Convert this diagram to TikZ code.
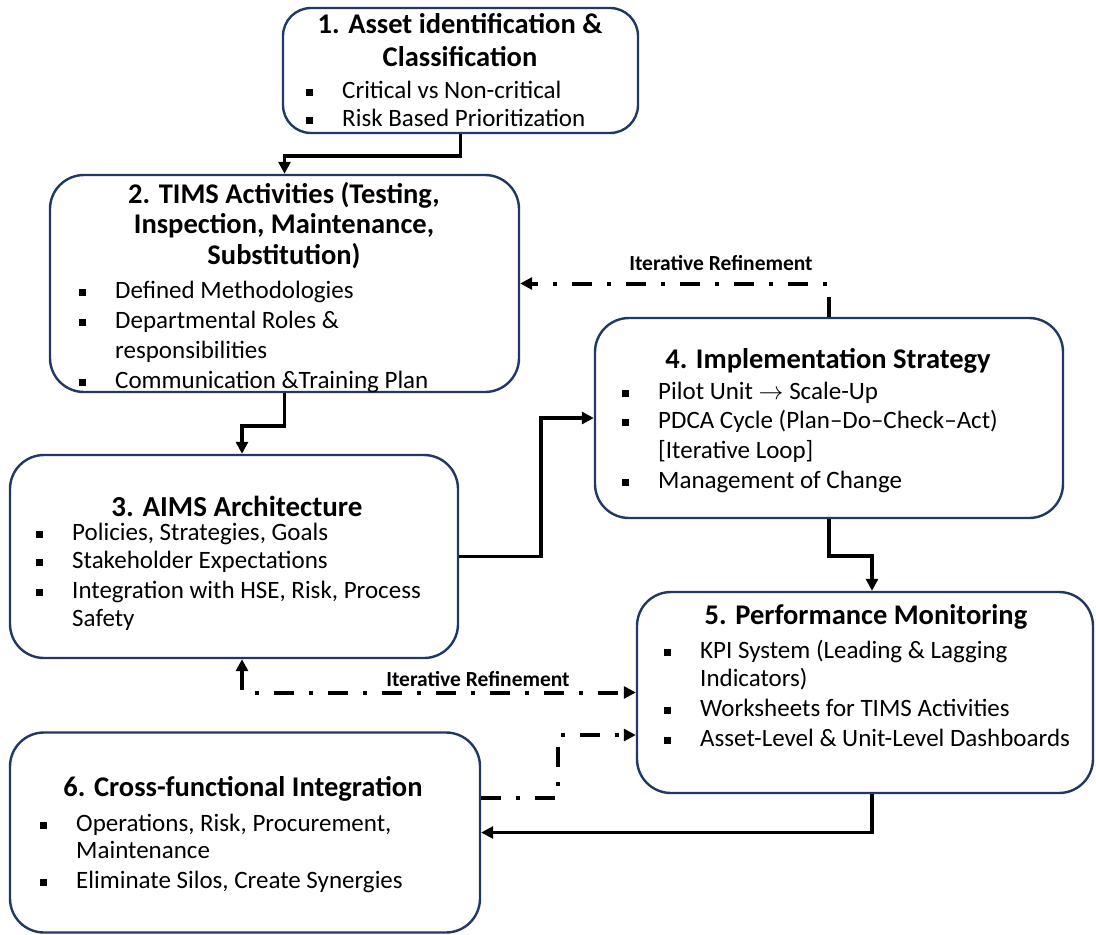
\documentclass[tikz,border=0pt]{standalone}
\usepackage{fontspec}
\setmainfont{Carlito}
\usetikzlibrary{arrows.meta,calc}
\definecolor{boxline}{RGB}{32,56,100}
\tikzset{
  x=1pt, y=-1pt,
  box/.style={draw=boxline, line width=2.4pt, rounded corners=34pt, inner sep=0pt, fill=white},
  ttl/.style={font=\bfseries\fontsize{#1}{#1}\selectfont, anchor=center, inner sep=0pt, text height=15pt, text depth=2pt},
  ttl/.default=28.5,
  itm/.style={font=\fontsize{25}{25}\selectfont, anchor=west, inner sep=0pt, text height=14pt, text depth=2pt},
  lbl/.style={font=\bfseries\fontsize{21.5}{22}\selectfont, inner sep=0pt},
  tip/.style={-{Triangle[length=12pt,width=12pt]}},
  flow/.style={line width=3.6pt, tip},
  iter/.style={line width=4pt, dash pattern=on 20pt off 15pt on 4pt off 15pt, tip},
}
\newcommand\bsq{\makebox[36pt][l]{\rule[2.5pt]{7pt}{7pt}}}
\begin{document}
\begin{tikzpicture}
\useasboundingbox (0,0) rectangle (1096,935);

% boxes
\node[box, rounded corners=28pt, minimum width=355pt, minimum height=125pt] (b1) at (460.5,70.5) {};
\node[box, minimum width=469pt, minimum height=217pt] (b2) at (284.5,283.5) {};
\node[box, minimum width=448pt, minimum height=203pt] (b3) at (234,556.5) {};
\node[box, minimum width=468pt, minimum height=200pt] (b4) at (829,418) {};
\node[box, minimum width=456pt, minimum height=201pt] (b5) at (865,692.5) {};
\node[box, minimum width=470pt, minimum height=200pt] (b6) at (245,832.5) {};

% box 1
\node[ttl] (t1a) at (460,27) {1. Asset identification \&};
\node[ttl] (t1b) at (460,60) {Classification};
\node[itm] (i1a) at (306,92) {\bsq Critical vs Non-critical};
\node[itm] (i1b) at (306,120) {\bsq Risk Based Prioritization};

% box 2
\node[ttl] (t2a) at (284,197) {2. TIMS Activities (Testing,};
\node[ttl] (t2b) at (284,227) {Inspection, Maintenance,};
\node[ttl] (t2c) at (284,258) {Substitution)};
\node[itm] (i2a) at (79,292) {\bsq Defined Methodologies};
\node[itm] (i2b) at (79,322) {\bsq Departmental Roles \&};
\node[itm] (i2c) at (115,352) {responsibilities};
\node[itm] (i2d) at (79,382) {\bsq Communication \&Training Plan};

% box 3
\node[ttl=29] (t3) at (237,510) {3. AIMS Architecture};
\node[itm] (i3a) at (36,534) {\bsq Policies, Strategies, Goals};
\node[itm] (i3b) at (36,562) {\bsq Stakeholder Expectations};
\node[itm] (i3c) at (36,592) {\bsq Integration with HSE, Risk, Process};
\node[itm] (i3d) at (72,620) {Safety};

% box 4
\node[ttl] (t4) at (828,362) {4. Implementation Strategy};
\node[itm] (i4a) at (622,393) {\bsq Pilot Unit $\rightarrow$ Scale-Up};
\node[itm] (i4b) at (622,422) {\bsq PDCA Cycle (Plan–Do–Check–Act)};
\node[itm] (i4c) at (658,452) {[Iterative Loop]};
\node[itm] (i4d) at (622,482) {\bsq Management of Change};

% box 5
\node[ttl] (t5) at (866,618) {5. Performance Monitoring};
\node[itm] (i5a) at (664,652) {\bsq KPI System (Leading \& Lagging};
\node[itm] (i5b) at (700,680) {Indicators)};
\node[itm] (i5c) at (664,710) {\bsq Worksheets for TIMS Activities};
\node[itm] (i5d) at (664,740) {\bsq Asset-Level \& Unit-Level Dashboards};

% box 6
\node[ttl] (t6) at (243,790) {6. Cross-functional Integration};
\node[itm] (i6a) at (40,825) {\bsq Operations, Risk, Procurement,};
\node[itm] (i6b) at (76,852) {Maintenance};
\node[itm] (i6c) at (40,882) {\bsq Eliminate Silos, Create Synergies};

% main flow
\draw[flow] (b1.south) -- ++(0,22) -| (b2.north);
\draw[flow] (b2.south) -- ++(0,33) -| ([xshift=8pt]b3.north);
\draw[flow] (b3.east) -- ++(82,0) |- (b4.west);
\draw[flow] (b4.south) -- ++(0,37) -| ([xshift=7pt]b5.north);
\draw[flow] ([xshift=7pt]b5.south) |- (b6.east);

% feedback loops
\draw[iter] (b4.north) |- (b2.east);
\node[lbl] (l1) at (721,263) {Iterative Refinement};
\draw[iter, {Triangle[length=12pt,width=12pt]}-{Triangle[length=12pt,width=12pt]}]
  ([xshift=8pt]b3.south) |- (b5.west);
\node[lbl] (l2) at (478,679) {Iterative Refinement};
\coordinate (k6) at (558,798);
\draw[iter] ([yshift=34.5pt]b6.east) -- (k6) |- ([yshift=-42.5pt]b5.west);
\end{tikzpicture}
\end{document}
